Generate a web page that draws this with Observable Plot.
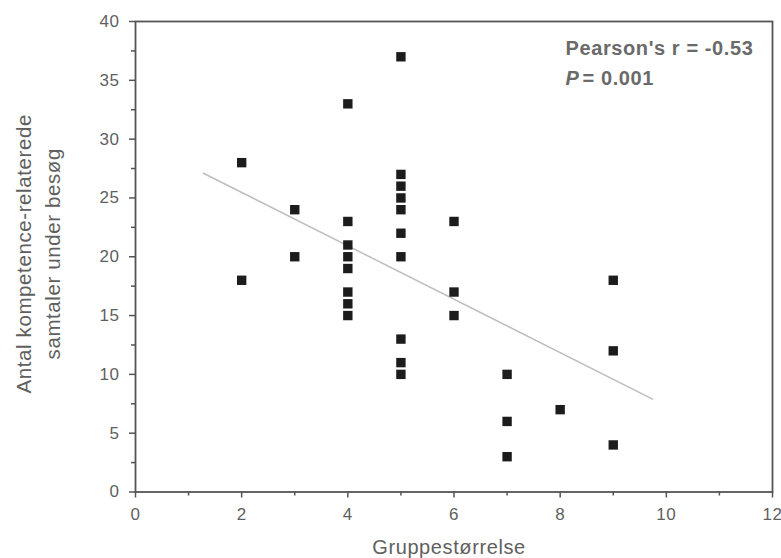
<!DOCTYPE html>
<html>
<head>
<meta charset="utf-8">
<script src="https://cdn.jsdelivr.net/npm/d3@7"></script>
<script src="https://cdn.jsdelivr.net/npm/@observablehq/plot@0.6"></script>
<style>
  html, body { margin: 0; padding: 0; background: #fff; }
</style>
</head>
<body>
<div id="chart"></div>
<script>
// Data
const groupSize = [2, 2, 3, 3, 4, 4, 4, 4, 4, 4, 4, 4, 5, 5, 5, 5, 5, 5, 5, 5, 5, 5, 6, 6, 6, 7, 7, 7, 8, 9, 9, 9];
const conversations = [28, 18, 24, 20, 33, 23, 21, 20, 19, 17, 16, 15, 37, 27, 26, 25, 24, 22, 20, 13, 11, 10, 23, 17, 15, 10, 6, 3, 7, 18, 12, 4];
const fitX = [1.28, 9.74];
const fitY = [27.1, 7.9];
const xTicks = [0, 2, 4, 6, 8, 10, 12];
const xMinorTicks = [1, 3, 5, 7, 9, 11];
const yTicks = [0, 5, 10, 15, 20, 25, 30, 35, 40];
const yMinorTicks = [2.5, 7.5, 12.5, 17.5, 22.5, 27.5, 32.5, 37.5];
const xTitle = "Gruppestørrelse";
const yTitle = "Antal kompetence-relaterede\nsamtaler under besøg";
const statLine1 = "Pearson's r = -0.53";
const statP = "P";
const statLine2 = "= 0.001";

const points = groupSize.map((x, i) => ({x, y: conversations[i]}));
const fit = fitX.map((x, i) => ({x, y: fitY[i]}));

const textColor = "#5f5f5f";
const axisColor = "#555";
const statColor = "#6a6a6a";

const chart = Plot.plot({
  width: 781,
  height: 558,
  marginLeft: 135,
  marginRight: 9,
  marginTop: 21,
  marginBottom: 66.5,
  x: {domain: [0, 12]},
  y: {domain: [0, 40]},
  style: {fontFamily: "'Liberation Sans', Arial, sans-serif", background: "#fff", color: textColor, letterSpacing: "0.6px"},
  marks: [
    Plot.axisX(xTicks, {tickSize: 6, tickPadding: 10, fontSize: 17, label: null, stroke: axisColor, strokeWidth: 1.5, fill: textColor}),
    Plot.axisX(xMinorTicks, {tickSize: 4, tickFormat: () => "", label: null, stroke: axisColor, strokeWidth: 1.5}),
    Plot.axisY(yTicks, {tickSize: 6, tickPadding: 10, fontSize: 17, label: null, stroke: axisColor, strokeWidth: 1.5, fill: textColor}),
    Plot.axisY(yMinorTicks, {tickSize: 4, tickFormat: () => "", label: null, stroke: axisColor, strokeWidth: 1.5}),
    Plot.frame({stroke: axisColor, strokeWidth: 1.8}),
    Plot.line(fit, {x: "x", y: "y", stroke: "#bdbdbd", strokeWidth: 1.5}),
    Plot.dot(points, {x: "x", y: "y", symbol: "square", r: 5.3, fill: "#1c1c1c", stroke: null}),
    Plot.text([xTitle], {frameAnchor: "bottom", dx: -5, dy: 56, fontSize: 20, fill: textColor, textAnchor: "middle", lineAnchor: "middle"}),
    Plot.text([yTitle], {frameAnchor: "left", dx: -99, dy: -3, rotate: -90, fontSize: 20.5, lineHeight: 1.37, fill: textColor, textAnchor: "middle", lineAnchor: "middle"}),
    Plot.text([statLine1], {frameAnchor: "top-left", dx: 430, dy: 27, textAnchor: "start", fontWeight: "bold", fontSize: 20, fill: statColor, lineAnchor: "middle"}),
    Plot.text([statP], {frameAnchor: "top-left", dx: 430, dy: 57, textAnchor: "start", fontWeight: "bold", fontStyle: "italic", fontSize: 20, fill: statColor, lineAnchor: "middle"}),
    Plot.text([statLine2], {frameAnchor: "top-left", dx: 447, dy: 57, textAnchor: "start", fontWeight: "bold", fontSize: 20, fill: statColor, lineAnchor: "middle"})
  ]
});
document.getElementById("chart").appendChild(chart);
</script>
</body>
</html>
